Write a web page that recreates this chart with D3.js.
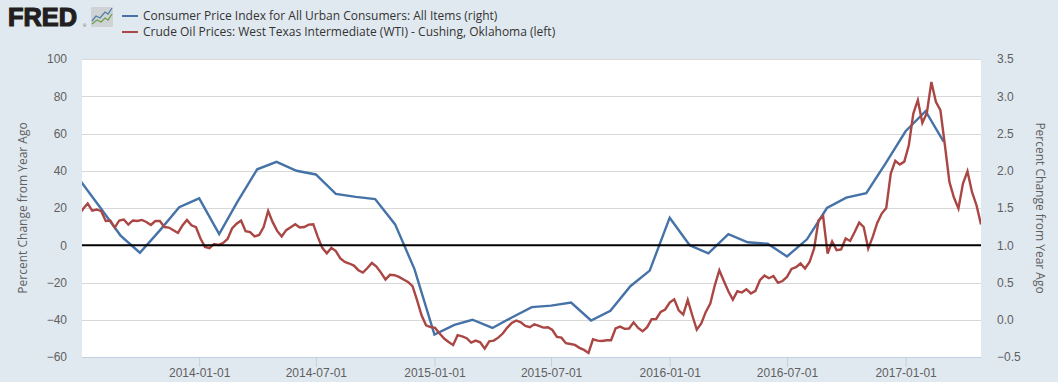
<!DOCTYPE html>
<html>
<head>
<meta charset="utf-8">
<script src="https://cdn.jsdelivr.net/npm/d3@7"></script>
<style>
  html, body { margin: 0; padding: 0; background: #e1e9f0; }
  svg { display: block; font-family: "Open Sans", sans-serif; }
  .axis text { fill: #606060; font-size: 12px; }
  .axis path { display: none; }
  .x-axis line { stroke: #c0d0e0; }
  .x-axis .baseline { stroke: #c0d0e0; }
  .grid line { stroke: #d8d8d8; }
  .axis-title { fill: #606060; font-size: 12px; }
  .legend text { fill: #333; font-size: 12px; }
</style>
</head>
<body>
<div id="chart"></div>
<script>
var cpiName = "Consumer Price Index for All Urban Consumers: All Items (right)";
var oilName = "Crude Oil Prices: West Texas Intermediate (WTI) - Cushing, Oklahoma (left)";
var yTitle = "Percent Change from Year Ago";

var xTickDates = ["2014-01-01", "2014-07-01", "2015-01-01", "2015-07-01", "2016-01-01", "2016-07-01", "2017-01-01"];
var leftTicks = [-60, -40, -20, 0, 20, 40, 60, 80, 100];
var rightTicks = [-0.5, 0, 0.5, 1, 1.5, 2, 2.5, 3, 3.5];

// CPI, monthly, percent change from year ago, 2013-07 to 2017-03
var cpiStart = "2013-07-01";
var cpiValues = [
  1.86, 1.5, 1.13, 0.9, 1.2, 1.51, 1.63, 1.15, 1.58, 2.02, 2.12, 2.0,
  1.95, 1.69, 1.65, 1.62, 1.28, 0.68, -0.2, -0.07, 0.0, -0.11, 0.03, 0.17,
  0.19, 0.23, -0.01, 0.12, 0.45, 0.66, 1.37, 1.0, 0.89, 1.15, 1.04, 1.02,
  0.85, 1.08, 1.5, 1.64, 1.7, 2.1, 2.53, 2.8, 2.39
];

// WTI, weekly (Fridays), percent change from year ago
var oilStart = "2013-06-28";
var oilValues = [
  16.1, 19.6, 22.4, 18.6, 19.2, 18.3, 13, 13.3, 9.5, 13.3, 13.8, 11.1, 13.3, 13, 13.6, 12.5,
  10.9, 13, 13, 9.8, 9.5, 8.1, 6.6, 10.6, 13.6, 10.7, 9.7, 3.6, -0.9, -1.6, 0.7, 0.2,
  1.2, 3.4, 9, 11.6, 13.3, 7.5, 7.1,
  4.8, 5.5, 9.8, 18.4, 12.4, 7.7, 4.7, 8.1, 9.7, 11.3, 9.5, 9.8, 11.1, 11.3, 4.5, -1.4,
  -4.3, -1.4, -3.1, -7.1, -9, -9.8, -10.9, -13.4, -14.7, -12.2, -9.5, -11.4, -14.7, -18.4,
  -15.9, -16.1, -17, -18.4, -19.7, -22, -29.5, -37.6, -43, -43.9,
  -44.4, -47.4, -50.1, -51.9, -53.5, -48.3, -48.9, -49.9, -52.3, -51.2, -52.1, -55.5, -51.6,
  -51.2, -49.6, -47.4, -44.2, -41.7, -40.4, -41.4, -43.3, -44, -42.4, -43.3, -44.2, -44,
  -45.5, -49.2, -49.6, -52.6, -53, -53.5, -55.1, -56.2, -57.8, -50.5, -51.2, -51.4, -51,
  -51, -44.7, -43.7, -44.9, -44.7, -41.4, -44.4, -46.2, -44, -39.7, -39.6, -35.8, -34.5,
  -30.8, -29, -34.9, -37.2, -29.4, -37.6, -45.3, -42, -35.8, -31.3, -21.5, -13.4, -19.2,
  -24.7, -29.2, -24.7, -25.4, -23.6, -25.9, -24.5, -18.8, -16.3, -17.7, -16.5, -20.2, -19.2, -17,
  -12.7, -11.8, -9.8, -12.5, -9, -1.8, 13.4, 15.7, -4.5, 2, -2.7, -2.3, 3.6, 2.3, 7.1,
  12.2, 9.8, -1.8, 4.5, 12, 17, 20,
  38.5, 45.3, 43.3, 44.9, 53.7, 70.7, 77.9, 65.7, 71, 87.7, 77, 72.5, 53.7, 34, 25.6,
  19.7, 33.1, 39.7, 28.6, 21.5, 11.1
];

var parseDate = d3.utcParse("%Y-%m-%d");

var cpiData = cpiValues.map(function(d, i) {
  return { date: d3.utcMonth.offset(parseDate(cpiStart), i), value: d };
});
var oilData = oilValues.map(function(d, i) {
  return { date: d3.utcDay.offset(parseDate(oilStart), i * 7), value: d };
});

var margin = { top: 59, right: 77, bottom: 25, left: 82 };
var width = 1058 - margin.left - margin.right,
    height = 382 - margin.top - margin.bottom;

var svg = d3.select("#chart").append("svg")
    .attr("width", 1058)
    .attr("height", 382);

var g = svg.append("g")
    .attr("transform", "translate(" + margin.left + "," + margin.top + ")");

// Scales
var x = d3.scaleUtc()
    .domain([parseDate("2013-07-01"), parseDate("2017-04-28")])
    .range([-1.4, width]);
var yLeft = d3.scaleLinear().domain([-60, 100]).range([height, 0]);
var yRight = d3.scaleLinear().domain([-0.5, 3.5]).range([height, 0]);

g.append("rect")
    .attr("width", width)
    .attr("height", height)
    .attr("fill", "#fff");

g.append("clipPath").attr("id", "plot-clip")
  .append("rect")
    .attr("width", width)
    .attr("height", height + 2)
    .attr("y", -1);

// Grid lines
g.append("g")
    .attr("class", "grid")
    .selectAll("line")
    .data(leftTicks.filter(function(d) { return d !== 0 && d !== -60; }))
    .enter().append("line")
    .attr("x1", 0)
    .attr("x2", width)
    .attr("y1", function(d) { return Math.round(yLeft(d)) + 0.5; })
    .attr("y2", function(d) { return Math.round(yLeft(d)) + 0.5; });

// Axes
var xAxis = d3.axisBottom(x)
    .tickValues(xTickDates.map(parseDate))
    .tickFormat(d3.utcFormat("%Y-%m-%d"))
    .tickSize(10)
    .tickPadding(1);
var xAxisG = g.append("g")
    .attr("class", "x-axis axis")
    .attr("transform", "translate(0," + height + ")")
    .call(xAxis);
xAxisG.append("line")
    .attr("class", "baseline")
    .attr("x1", 0)
    .attr("x2", width)
    .attr("y1", 0.5)
    .attr("y2", 0.5);

g.append("g")
    .attr("class", "y-axis axis")
    .call(d3.axisLeft(yLeft).tickValues(leftTicks).tickSize(0).tickPadding(15))
    .selectAll("line").remove();

g.append("g")
    .attr("class", "y-axis axis")
    .attr("transform", "translate(" + width + ",0)")
    .call(d3.axisRight(yRight).tickValues(rightTicks).tickFormat(d3.format(".1f")).tickSize(0).tickPadding(16))
    .selectAll("line").remove();

g.append("text")
    .attr("class", "axis-title")
    .attr("text-anchor", "middle")
    .attr("transform", "translate(-55," + (height / 2) + ") rotate(-90)")
    .text(yTitle);

g.append("text")
    .attr("class", "axis-title")
    .attr("text-anchor", "middle")
    .attr("transform", "translate(" + (width + 55) + "," + (height / 2) + ") rotate(90)")
    .text(yTitle);

// Lines
var oilLine = d3.line()
    .x(function(d) { return x(d.date); })
    .y(function(d) { return yLeft(d.value); });
var cpiLine = d3.line()
    .x(function(d) { return x(d.date); })
    .y(function(d) { return yRight(d.value); });

var plot = g.append("g").attr("clip-path", "url(#plot-clip)");

plot.append("path")
    .datum(cpiData)
    .attr("fill", "none")
    .attr("stroke", "#4572a7")
    .attr("stroke-width", 2.4)
    .attr("d", cpiLine);

plot.append("path")
    .datum(oilData)
    .attr("fill", "none")
    .attr("stroke", "#aa4643")
    .attr("stroke-width", 2.4)
    .attr("d", oilLine);

// Zero line on top of the series
g.append("line")
    .attr("x1", 0)
    .attr("x2", width)
    .attr("y1", yLeft(0))
    .attr("y2", yLeft(0))
    .attr("stroke", "#000")
    .attr("stroke-width", 2);

// Legend
var legend = svg.append("g").attr("class", "legend");
var legendRows = [
  { name: cpiName, color: "#4572a7", y: 16 },
  { name: oilName, color: "#aa4643", y: 32 }
];
legendRows.forEach(function(d) {
  legend.append("line")
      .attr("x1", 122)
      .attr("x2", 138)
      .attr("y1", d.y)
      .attr("y2", d.y)
      .attr("stroke", d.color)
      .attr("stroke-width", 2);
  legend.append("text")
      .attr("x", 143)
      .attr("y", d.y + 4)
      .text(d.name);
});

// FRED logo
var logo = svg.append("g").attr("class", "logo");
logo.append("text")
    .attr("x", 8)
    .attr("y", 26)
    .attr("textLength", 69)
    .attr("lengthAdjust", "spacingAndGlyphs")
    .style("font-family", "'Liberation Sans', Arial, sans-serif")
    .style("font-size", "25px")
    .style("font-weight", "bold")
    .style("fill", "#231f20")
    .style("stroke", "#231f20")
    .style("stroke-width", 1.2)
    .text("FRED");
logo.append("text")
    .attr("x", 83)
    .attr("y", 27)
    .style("font-size", "4px")
    .style("fill", "#555")
    .text("®");
logo.append("rect")
    .attr("x", 91)
    .attr("y", 7)
    .attr("width", 22)
    .attr("height", 20)
    .attr("rx", 1)
    .attr("fill", "#cfd3d6");
logo.append("path")
    .attr("d", "M92,21 L96,16 L100,18 L105,12 L108,14 L112,8")
    .attr("fill", "none")
    .attr("stroke", "#4f7fa8")
    .attr("stroke-width", 1.3);
logo.append("path")
    .attr("d", "M92,24 L97,20 L101,22 L105,18 L108,20 L112,14")
    .attr("fill", "none")
    .attr("stroke", "#6f9f4a")
    .attr("stroke-width", 1.3);
</script>
</body>
</html>
